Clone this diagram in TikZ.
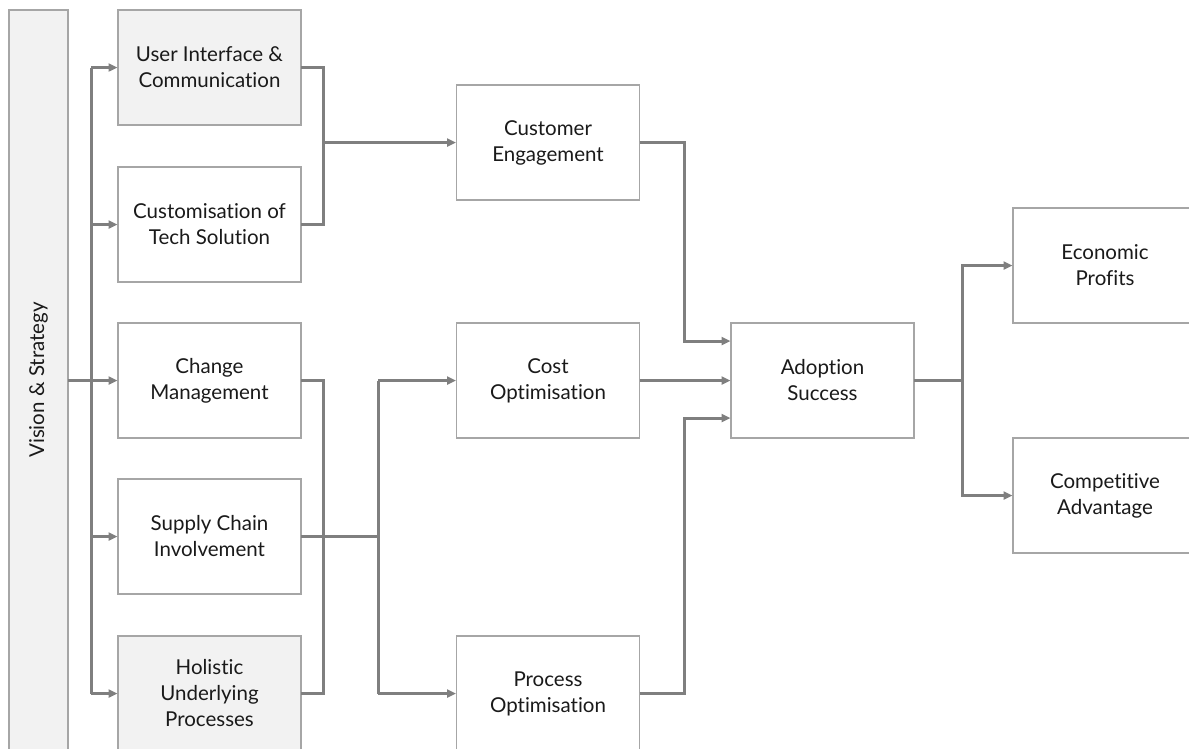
\documentclass[tikz,border=0pt]{standalone}
\usepackage{fontspec}
\setmainfont{Lato}[Ligatures={NoCommon}]
\usetikzlibrary{arrows.meta}
\definecolor{boxline}{HTML}{A6A6A6}
\definecolor{boxfill}{HTML}{F2F2F2}
\definecolor{connc}{HTML}{7F7F7F}
\definecolor{txt}{HTML}{1A1A1A}
\begin{document}
\begin{tikzpicture}[x=1pt,y=-1pt,
  box/.style={draw=boxline, line width=1.1pt, fill=white, minimum width=183pt, minimum height=115pt,
    inner sep=0pt, outer sep=0pt, align=center, text=txt, font=\fontsize{20.5}{26}\selectfont},
  greybox/.style={box, fill=boxfill},
  conn/.style={draw=connc, line width=3pt},
  arr/.style={conn, -{Triangle[length=9pt,width=8pt]}, shorten >=0.5pt}]
\useasboundingbox (0,0) rectangle (1189,748);
\clip (0,0) rectangle (1189,748);
% nodes
\node[greybox, minimum width=59pt, minimum height=740pt] (vis) at (38.5,380) {};
\node[rotate=90, text=txt, font=\fontsize{20.5}{26}\selectfont] (vist) at (vis.center) {Vision \& Strategy};
\node[greybox] (ui)  at (209.5,67.5)  {User Interface \&\\Communication};
\node[box]     (cus) at (209.5,224.5) {Customisation of\\Tech Solution};
\node[box]     (chg) at (209.5,380.5) {Change\\Management};
\node[box]     (sup) at (209.5,536.5) {Supply Chain\\Involvement};
\node[greybox] (hol) at (209.5,693.5) {Holistic\\Underlying\\Processes};
\node[box] (ce)   at (548,142.5) {Customer\\Engagement};
\node[box] (cost) at (548,380.5) {Cost\\Optimisation};
\node[box] (proc) at (548,693.5) {Process\\Optimisation};
\node[box] (ad)   at (822.5,380.5) {Adoption\\Success};
\node[box, minimum width=184pt] (eco)  at (1105,265.5) {Economic\\Profits};
\node[box, minimum width=184pt] (comp) at (1105,495.5) {Competitive\\Advantage};
% junction coordinates
\coordinate (tr) at (91,380);
\coordinate (j1) at (323,142.5);
\coordinate (j2) at (323,536.5);
\coordinate (j3) at (378,536.5);
\coordinate (j4) at (684,341);
\coordinate (j5) at (684,418);
\coordinate (j6) at (962,380.5);
% vision trunk
\draw[conn] (vis.east) -- (tr);
\draw[conn] (tr |- ui.west) -- (tr |- hol.west);
\foreach \n in {ui,cus,chg,sup,hol}
  \draw[arr] (tr |- \n.west) -- (\n.west);
% UI + customisation -> customer engagement
\draw[conn] (ui.east) -- (ui.east -| j1) -- (cus.east -| j1) -- (cus.east);
\draw[arr] (j1) -- (ce.west);
% change + holistic + supply -> cost, process
\draw[conn] (chg.east) -- (chg.east -| j2) -- (hol.east -| j2) -- (hol.east);
\draw[conn] (sup.east) -- (j3);
\draw[conn] (j3 |- cost.west) -- (j3 |- proc.west);
\draw[arr] (j3 |- cost.west) -- (cost.west);
\draw[arr] (j3 |- proc.west) -- (proc.west);
% to adoption
\draw[arr] (ce.east) -| (j4) -- (ad.west |- j4);
\draw[arr] (cost.east) -- (ad.west);
\draw[arr] (proc.east) -| (j5) -- (ad.west |- j5);
% from adoption
\draw[conn] (ad.east) -- (j6);
\draw[arr] (j6) |- (eco.west);
\draw[arr] (j6) |- (comp.west);
\end{tikzpicture}
\end{document}
